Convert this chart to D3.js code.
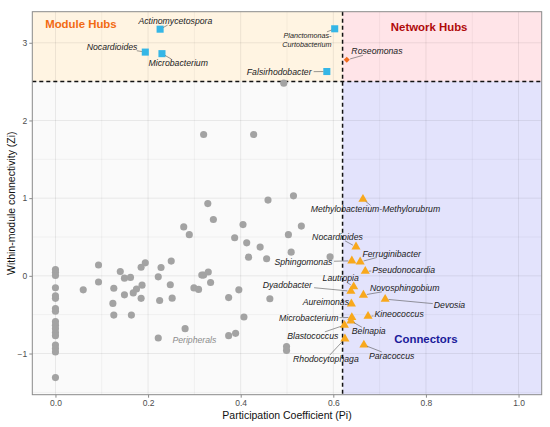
<!DOCTYPE html>
<html>
<head>
<meta charset="utf-8">
<script src="https://cdn.jsdelivr.net/npm/d3@7.9.0/dist/d3.min.js"></script>
<style>
  body { margin: 0; background: #fff; }
  svg { font-family: "Liberation Sans", Arial, sans-serif; }
  .lab { font-style: italic; fill: #222; font-size: 8.7px; }
</style>
</head>
<body>
<svg id="chart" width="550" height="427"></svg>
<script>
// peripheral nodes (gray)
const periPi = [0, 0, 0, 0, 0, 0, 0, 0, 0, 0, 0, 0, 0, 0, 0, 0, 0,
  0.320, 0.428, 0.329, 0.341, 0.459, 0.514, 0.277, 0.289, 0.405, 0.387, 0.413, 0.417,
  0.442, 0.456, 0.503, 0.531, 0.509, 0.593, 0.093, 0.093, 0.060, 0.140, 0.149, 0.162,
  0.126, 0.149, 0.168, 0.175, 0.124, 0.126, 0.164, 0.185, 0.187, 0.185, 0.194, 0.222,
  0.228, 0.250, 0.225, 0.248, 0.252, 0.299, 0.309, 0.316, 0.320, 0.330, 0.335, 0.374,
  0.396, 0.407, 0.463, 0.280, 0.374, 0.389, 0.222, 0.499, 0.499, 0.493];
const periZi = [0.08, 0.045, 0.005, -0.154, -0.257, -0.29, -0.42, -0.455, -0.59, -0.635,
  -0.68, -0.73, -0.77, -0.89, -0.935, -0.98, -1.31,
  1.82, 1.82, 0.93, 0.725, 0.975, 1.03, 0.63, 0.53, 0.66, 0.49, 0.425, 0.24,
  0.37, 0.22, 0.53, 0.64, 0.305, 0.245, 0.14, -0.08, -0.18, 0.056, -0.03, -0.02,
  -0.16, -0.245, -0.22, -0.17, -0.355, -0.505, -0.505, -0.29, -0.12, 0.11, 0.167, -0.013,
  0.108, 0.19, -0.317, -0.115, -0.287, -0.155, -0.175, 0.01, 0.01, 0.05, -0.086, -0.28,
  -0.18, -0.53, -0.295, -0.68, -0.77, -0.74, -0.80, -0.91, -0.96, 2.48];

// module hubs (blue squares)
const hubNames = ["Actinomycetospora", "Nocardioides", "Microbacterium",
  "Planctomonas-\nCurtobacterium", "Falsirhodobacter"];
const hubPi = [0.226, 0.194, 0.230, 0.603, 0.586];
const hubZi = [3.175, 2.88, 2.86, 3.18, 2.63];
const hubLabelPi = [0.259, 0.177, 0.201, 0.596, 0.553];
const hubLabelZi = [3.28, 2.95, 2.74, 3.04, 2.625];
const hubAnchor = ["middle", "end", "start", "end", "end"];

// network hubs (orange diamond)
const netNames = ["Roseomonas"];
const netPi = [0.629];
const netZi = [2.78];
const netLabelPi = [0.639];
const netLabelZi = [2.89];
const netAnchor = ["start"];

// connectors (orange triangles)
const conNames = ["Methylobacterium-Methylorubrum", "Nocardioides", "Ferruginibacter",
  "Sphingomonas", "Pseudonocardia", "Lautropia", "Dyadobacter", "Novosphingobium",
  "Devosia", "Aureimonas", "Kineococcus", "Microbacterium", "Belnapia", "Blastococcus",
  "Rhodocytophaga", "Paracoccus"];
const conPi = [0.664, 0.649, 0.658, 0.640, 0.669, 0.644, 0.638, 0.665,
  0.712, 0.639, 0.675, 0.640, 0.638, 0.624, 0.625, 0.666];
const conZi = [0.987, 0.373, 0.18, 0.193, 0.06, -0.14, -0.198, -0.248,
  -0.30, -0.36, -0.52, -0.535, -0.58, -0.635, -0.81, -0.89];
const conLabelPi = [0.691, 0.609, 0.663, 0.598, 0.684, 0.616, 0.554, 0.679,
  0.817, 0.634, 0.689, 0.611, 0.640, 0.611, 0.584, 0.677];
const conLabelZi = [0.855, 0.502, 0.288, 0.18, 0.07, -0.033, -0.12, -0.154,
  -0.377, -0.335, -0.497, -0.548, -0.712, -0.772, -1.072, -1.03];
const conAnchor = ["middle", "middle", "start", "end", "start", "middle", "end", "start",
  "start", "end", "start", "end", "start", "end", "middle", "start"];

const xTicks = [0, 0.2, 0.4, 0.6, 0.8, 1.0];
const yTicks = [-1, 0, 1, 2, 3];
const piCut = 0.62, ziCut = 2.5;

const regionNames = ["Module Hubs", "Network Hubs", "Connectors", "Peripherals"];
const regionPi = [0.055, 0.807, 0.80, 0.30];
const regionZi = [3.24, 3.20, -0.815, -0.82];

const svg = d3.select("#chart");
const pLeft = 32.3, pRight = 541.7, pTop = 11.7, pBottom = 394.7;
const x = d3.scaleLinear().domain([-0.05, 1.05]).range([pLeft, pRight]);
const y = d3.scaleLinear().domain([-1.53, 3.40]).range([pBottom, pTop]);

// quadrant backgrounds
const regions = [
  { x0: -0.05, x1: piCut, y0: ziCut, y1: 3.40, fill: "#FFF4E2" },
  { x0: piCut, x1: 1.05, y0: ziCut, y1: 3.40, fill: "#FFE4E8" },
  { x0: piCut, x1: 1.05, y0: -1.53, y1: ziCut, fill: "#E3E3FC" },
  { x0: -0.05, x1: piCut, y0: -1.53, y1: ziCut, fill: "#FAFAFA" }
];
svg.append("g").selectAll("rect").data(regions).join("rect")
  .attr("x", d => x(d.x0)).attr("y", d => y(d.y1))
  .attr("width", d => x(d.x1) - x(d.x0)).attr("height", d => y(d.y0) - y(d.y1))
  .attr("fill", d => d.fill);

// grid
const grid = svg.append("g").attr("stroke", "rgba(0,0,0,0.075)");
const xMinor = [0.1, 0.3, 0.5, 0.7, 0.9];
const yMinor = [-1.5, -0.5, 0.5, 1.5, 2.5];
grid.selectAll(".xmaj").data(xTicks).join("line")
  .attr("x1", d => x(d)).attr("x2", d => x(d)).attr("y1", pTop).attr("y2", pBottom)
  .attr("stroke-width", 1);
grid.selectAll(".xmin").data(xMinor).join("line")
  .attr("x1", d => x(d)).attr("x2", d => x(d)).attr("y1", pTop).attr("y2", pBottom)
  .attr("stroke-width", 0.6);
grid.selectAll(".ymaj").data(yTicks).join("line")
  .attr("y1", d => y(d)).attr("y2", d => y(d)).attr("x1", pLeft).attr("x2", pRight)
  .attr("stroke-width", 1);
grid.selectAll(".ymin").data(yMinor).join("line")
  .attr("y1", d => y(d)).attr("y2", d => y(d)).attr("x1", pLeft).attr("x2", pRight)
  .attr("stroke-width", 0.6);

// cut lines
svg.append("line").attr("x1", pLeft).attr("x2", pRight).attr("y1", y(ziCut)).attr("y2", y(ziCut))
  .attr("stroke", "#111").attr("stroke-width", 1.5).attr("stroke-dasharray", "4,3");
svg.append("line").attr("x1", x(piCut)).attr("x2", x(piCut)).attr("y1", pTop).attr("y2", pBottom)
  .attr("stroke", "#111").attr("stroke-width", 1.5).attr("stroke-dasharray", "4,3");

// panel border
svg.append("rect").attr("x", pLeft).attr("y", pTop)
  .attr("width", pRight - pLeft).attr("height", pBottom - pTop)
  .attr("fill", "none").attr("stroke", "#8a8a8a").attr("stroke-width", 1);

// axes
const xAxis = svg.append("g").attr("transform", `translate(0,${pBottom})`)
  .call(d3.axisBottom(x).tickValues(xTicks).tickFormat(d3.format(".1f")).tickSize(3).tickPadding(2));
const yAxis = svg.append("g").attr("transform", `translate(${pLeft},0)`)
  .call(d3.axisLeft(y).tickValues(yTicks).tickFormat(d3.format("d")).tickSize(3).tickPadding(2));
[xAxis, yAxis].forEach(a => {
  a.select(".domain").remove();
  a.selectAll(".tick line").attr("stroke", "#8a8a8a");
  a.selectAll(".tick text").attr("fill", "#4d4d4d").attr("font-size", 8.5)
    .attr("font-family", "Liberation Sans, Arial, sans-serif");
});

svg.append("text").attr("x", (pLeft + pRight) / 2).attr("y", 419)
  .attr("text-anchor", "middle").attr("font-size", 10.5).attr("fill", "#111")
  .text("Participation Coefficient (Pi)");
svg.append("text").attr("transform", `translate(15,${(pTop + pBottom) / 2}) rotate(-90)`)
  .attr("text-anchor", "middle").attr("font-size", 10.5).attr("fill", "#111")
  .text("Within-module connectivity (Zi)");

// region titles
const regionColors = ["#F26A12", "#B00A0A", "#1A1A9A", "#8c8c8c"];
regionNames.forEach((n, i) => {
  svg.append("text").attr("x", x(regionPi[i])).attr("y", y(regionZi[i]))
    .attr("dy", "0.35em").attr("text-anchor", "middle")
    .attr("font-size", i === 3 ? 8.7 : 11.4)
    .attr("font-weight", i === 3 ? "normal" : "bold")
    .attr("font-style", i === 3 ? "italic" : "normal")
    .attr("fill", regionColors[i]).text(n);
});

// points
svg.append("g").selectAll("path").data(periPi).join("path")
  .attr("transform", (d, i) => `translate(${x(d)},${y(periZi[i])})`)
  .attr("d", d3.symbol(d3.symbolCircle, 40)())
  .attr("fill", "#A3A3A3");

function drawGroup(names, pis, zis, lpi, lzi, anchors, shape, color) {
  const g = svg.append("g");
  g.selectAll("path").data(pis).join("path")
    .attr("transform", (d, i) => `translate(${x(d)},${y(zis[i])})` + (shape === "diamond" ? " rotate(45)" : ""))
    .attr("d", shape === "square" ? d3.symbol(d3.symbolSquare, 50)()
      : shape === "triangle" ? d3.symbol(d3.symbolTriangle, 36)()
      : d3.symbol(d3.symbolSquare, 18)())
    .attr("fill", color);

  names.forEach((n, i) => {
    const lines = n.split("\n");
    const t = svg.append("text").attr("class", "lab")
      .attr("text-anchor", anchors[i])
      .attr("x", x(lpi[i]));
    if (lines.length > 1) {
      t.style("font-size", "7.2px").attr("y", y(lzi[i]));
      lines.forEach((l, j) => {
        t.append("tspan").attr("x", x(lpi[i]))
          .attr("dy", j === 0 ? `${-0.6 * (lines.length - 1) + 0.35}em` : "1.2em").text(l);
      });
    } else {
      t.attr("y", y(lzi[i])).attr("dy", "0.35em").text(n);
    }
    // leader segment from label box to point
    const b = t.node().getBBox();
    const cx = b.x + b.width / 2, cy = b.y + b.height / 2;
    const px = x(pis[i]), py = y(zis[i]);
    const dx = px - cx, dy = py - cy;
    const hw = b.width / 2 + 1, hh = b.height / 2 - 1;
    if (Math.abs(dx) <= hw && Math.abs(dy) <= hh) return;
    const s = Math.min(dx !== 0 ? hw / Math.abs(dx) : Infinity, dy !== 0 ? hh / Math.abs(dy) : Infinity);
    const sx = cx + dx * s, sy = cy + dy * s;
    const len = Math.hypot(px - sx, py - sy);
    if (len < 5) return;
    const ex = px - (px - sx) / len * 3.5, ey = py - (py - sy) / len * 3.5;
    svg.append("line").attr("x1", sx).attr("y1", sy).attr("x2", ex).attr("y2", ey)
      .attr("stroke", "#555").attr("stroke-width", 0.6);
  });
}

drawGroup(hubNames, hubPi, hubZi, hubLabelPi, hubLabelZi, hubAnchor, "square", "#35B6E6");
drawGroup(netNames, netPi, netZi, netLabelPi, netLabelZi, netAnchor, "diamond", "#F26B1D");
drawGroup(conNames, conPi, conZi, conLabelPi, conLabelZi, conAnchor, "triangle", "#F8A81C");
</script>
</body>
</html>
